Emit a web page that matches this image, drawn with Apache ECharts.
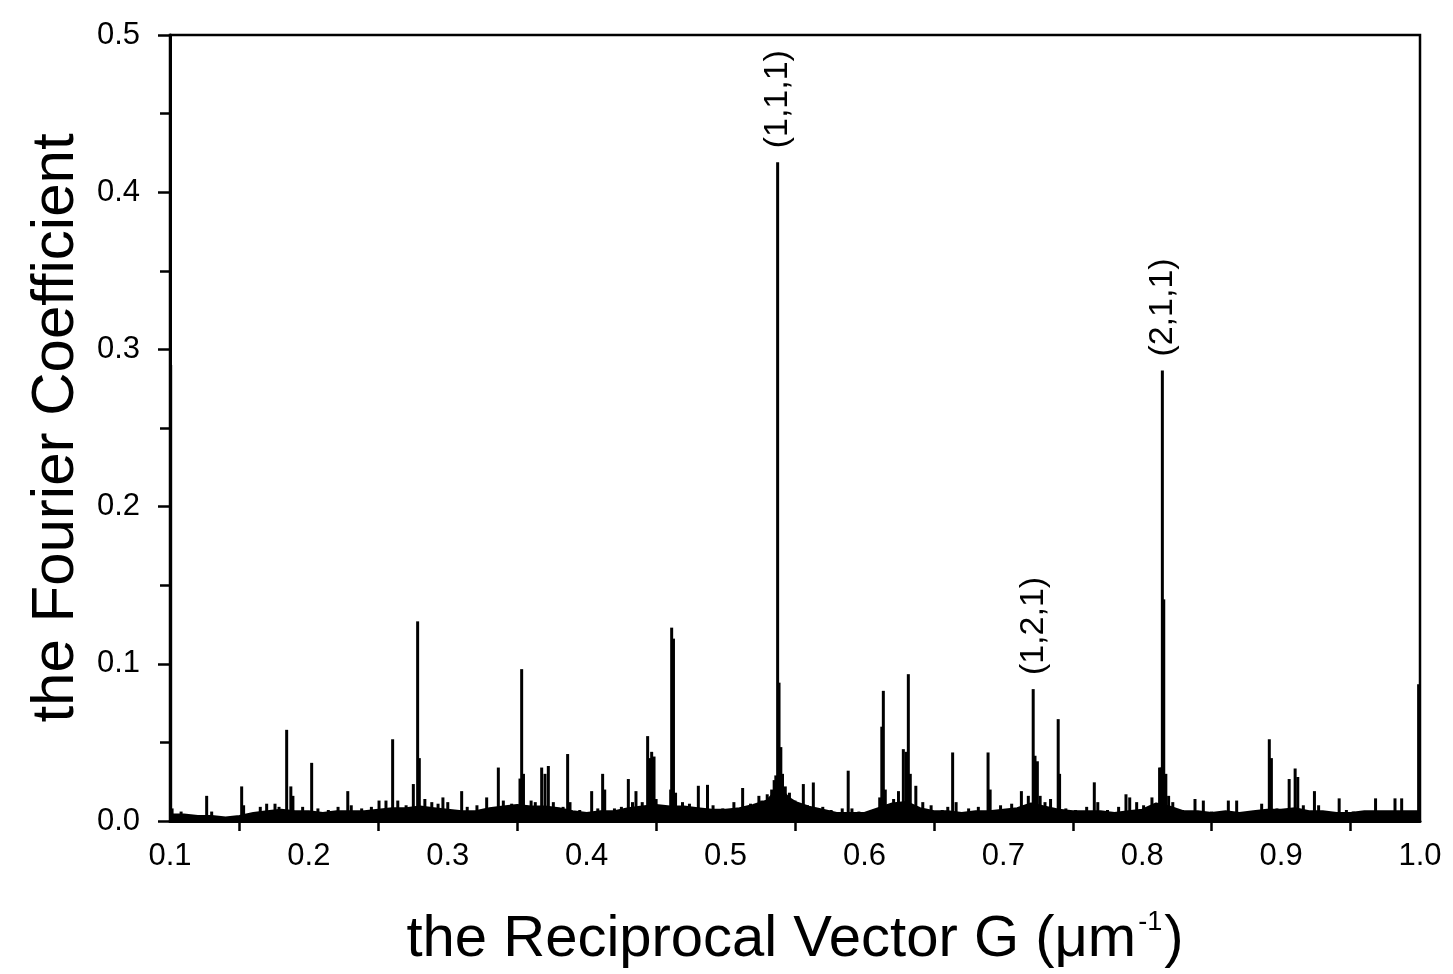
<!DOCTYPE html>
<html>
<head>
<meta charset="utf-8">
<script src="https://cdn.jsdelivr.net/npm/echarts@6/dist/echarts.min.js"></script>
<style>html,body{margin:0;padding:0;background:#fff;}#c{width:1453px;height:974px;}</style>
</head>
<body>
<div id="c"></div>
<script>
// Noise floor of the spectrum (G in 1/um, Fourier coefficient)
const baseG = [0.100,0.110,0.120,0.130,0.140,0.150,0.160,0.170,0.180,0.190,0.200,0.210,0.220,0.230,0.240,0.250,0.260,0.270,0.280,0.290,0.300,0.310,0.320,0.330,0.340,0.350,0.360,0.370,0.380,0.390,0.400,0.410,0.420,0.430,0.440,0.450,0.460,0.470,0.480,0.490,0.500,0.510,0.520,0.530,0.535,0.540,0.545,0.550,0.560,0.570,0.580,0.590,0.600,0.610,0.620,0.630,0.640,0.650,0.660,0.670,0.680,0.690,0.700,0.710,0.720,0.730,0.740,0.750,0.760,0.770,0.780,0.790,0.800,0.810,0.820,0.830,0.840,0.850,0.860,0.870,0.880,0.890,0.900,0.910,0.920,0.930,0.940,0.950,0.960,0.970,0.980,0.990,1.000];
const baseF = [0.004,0.004,0.003,0.003,0.002,0.003,0.005,0.006,0.007,0.006,0.006,0.005,0.006,0.006,0.006,0.007,0.008,0.008,0.009,0.008,0.007,0.006,0.006,0.008,0.009,0.010,0.009,0.009,0.008,0.006,0.005,0.006,0.006,0.008,0.009,0.010,0.009,0.009,0.008,0.007,0.007,0.008,0.010,0.013,0.018,0.020,0.015,0.012,0.009,0.007,0.005,0.005,0.005,0.008,0.011,0.012,0.008,0.006,0.006,0.005,0.006,0.006,0.007,0.008,0.011,0.009,0.007,0.006,0.006,0.006,0.005,0.006,0.007,0.011,0.009,0.006,0.006,0.005,0.006,0.005,0.006,0.007,0.007,0.008,0.006,0.006,0.005,0.005,0.006,0.006,0.006,0.006,0.006];

// Spikes
const peakG = [0.1005,0.1015,0.108,0.1264,0.130,0.1516,0.153,0.165,0.1696,0.1756,0.1785,0.184,0.187,0.1885,0.1955,0.202,0.2065,0.214,0.221,0.228,0.2305,0.238,0.245,0.2505,0.2555,0.2603,0.264,0.270,0.2752,0.2783,0.2795,0.2835,0.2885,0.293,0.2965,0.300,0.310,0.314,0.321,0.328,0.3364,0.340,0.346,0.352,0.3532,0.3545,0.360,0.363,0.3676,0.3700,0.3724,0.376,0.383,0.3863,0.388,0.395,0.4036,0.408,0.4115,0.413,0.420,0.425,0.430,0.433,0.4355,0.440,0.4439,0.4455,0.4468,0.4485,0.450,0.454,0.458,0.4605,0.4612,0.4625,0.464,0.469,0.474,0.4804,0.487,0.491,0.498,0.506,0.5123,0.518,0.524,0.526,0.530,0.5332,0.535,0.5362,0.5375,0.5385,0.5398,0.541,0.543,0.546,0.550,0.556,0.559,0.5632,0.570,0.576,0.584,0.5883,0.591,0.596,0.605,0.611,0.6125,0.6136,0.615,0.621,0.6245,0.628,0.630,0.6316,0.633,0.637,0.642,0.648,0.656,0.660,0.6635,0.666,0.675,0.682,0.689,0.6905,0.698,0.706,0.713,0.718,0.7215,0.7228,0.7245,0.7265,0.730,0.734,0.7395,0.7405,0.745,0.752,0.760,0.7655,0.768,0.775,0.783,0.7883,0.791,0.796,0.801,0.807,0.8125,0.8135,0.8145,0.8155,0.817,0.819,0.822,0.829,0.838,0.844,0.850,0.862,0.868,0.878,0.886,0.8915,0.893,0.897,0.9058,0.9101,0.912,0.916,0.924,0.927,0.932,0.9418,0.947,0.952,0.968,0.973,0.982,0.9868,0.992,0.999];
const peakF = [0.290,0.008,0.006,0.016,0.006,0.022,0.010,0.009,0.011,0.011,0.009,0.058,0.022,0.016,0.009,0.037,0.008,0.007,0.009,0.019,0.010,0.008,0.009,0.013,0.013,0.052,0.013,0.010,0.0235,0.127,0.040,0.014,0.012,0.011,0.015,0.012,0.019,0.009,0.010,0.015,0.034,0.013,0.011,0.027,0.0966,0.030,0.013,0.012,0.034,0.030,0.035,0.012,0.009,0.0426,0.012,0.007,0.019,0.008,0.030,0.020,0.008,0.009,0.0267,0.012,0.019,0.012,0.054,0.040,0.044,0.041,0.014,0.010,0.009,0.020,0.123,0.116,0.018,0.012,0.011,0.0224,0.023,0.010,0.008,0.012,0.021,0.011,0.016,0.013,0.017,0.020,0.026,0.029,0.419,0.088,0.047,0.030,0.022,0.018,0.013,0.0235,0.010,0.0245,0.009,0.007,0.008,0.032,0.008,0.006,0.007,0.015,0.060,0.0828,0.020,0.014,0.019,0.0457,0.044,0.0934,0.030,0.0224,0.012,0.010,0.007,0.009,0.0436,0.012,0.008,0.009,0.0436,0.020,0.010,0.011,0.019,0.016,0.0839,0.0415,0.038,0.016,0.012,0.014,0.0648,0.030,0.008,0.007,0.009,0.0246,0.012,0.007,0.009,0.017,0.015,0.012,0.010,0.015,0.034,0.034,0.2865,0.141,0.030,0.016,0.012,0.007,0.014,0.013,0.006,0.013,0.013,0.006,0.011,0.052,0.040,0.008,0.0267,0.0334,0.028,0.010,0.019,0.010,0.006,0.0144,0.007,0.006,0.0144,0.006,0.0144,0.0144,0.006,0.087];

// Peak annotations
const labelG = [0.5375, 0.7215, 0.8145];
const labelText = ['(1,1,1)', '(1,2,1)', '(2,1,1)'];

const yTicks = [0, 0.1, 0.2, 0.3, 0.4, 0.5];
const xTicks = [0.1, 0.2, 0.3, 0.4, 0.5, 0.6, 0.7, 0.8, 0.9, 1.0];

const FONT = "'Liberation Sans', Arial, Helvetica, sans-serif";

const baseData = baseG.map((g, i) => [g, baseF[i]]);
const barData = peakG.map((g, i) => {
  const li = labelG.indexOf(g);
  const item = { value: [g, peakF[i]] };
  if (li >= 0) {
    item.label = {
      show: true, formatter: labelText[li], position: 'top', rotate: 90,
      align: 'left', verticalAlign: 'middle', distance: 14,
      fontSize: 34, fontFamily: FONT, color: '#000'
    };
  }
  return item;
});

const chart = echarts.init(document.getElementById('c'), null, { renderer: 'canvas' });
chart.setOption({
  animation: false,
  backgroundColor: '#fff',
  grid: { left: 170, right: 33, top: 35, bottom: 152, show: true, borderColor: '#000', borderWidth: 2.5, backgroundColor: 'transparent' },
  xAxis: {
    type: 'value', min: xTicks[0], max: xTicks[xTicks.length - 1], interval: 0.1,
    axisLine: { show: true, onZero: false, lineStyle: { color: '#000', width: 3 } },
    axisTick: { show: false },
    minorTick: { show: true, splitNumber: 2, length: 10, lineStyle: { color: '#000', width: 2.5 } },
    splitLine: { show: false },
    axisLabel: { color: '#000', fontSize: 31, fontFamily: FONT, margin: 20, formatter: v => v.toFixed(1) },
    name: '{a|the Reciprocal Vector G (μm}{s|-1}{a|)}',
    nameLocation: 'middle', nameGap: 88,
    nameTextStyle: {
      color: '#000', fontFamily: FONT,
      rich: {
        a: { fontSize: 58, fontFamily: FONT, color: '#000', lineHeight: 62 },
        s: { fontSize: 27, fontFamily: FONT, color: '#000', verticalAlign: 'top', lineHeight: 62, padding: [0, 2, 30, 2] }
      }
    }
  },
  yAxis: {
    type: 'value', min: yTicks[0], max: yTicks[yTicks.length - 1], interval: 0.1,
    axisLine: { show: true, lineStyle: { color: '#000', width: 3 } },
    axisTick: { show: true, length: 12, lineStyle: { color: '#000', width: 2.5 } },
    minorTick: { show: true, splitNumber: 2, length: 10, lineStyle: { color: '#000', width: 2.5 } },
    splitLine: { show: false },
    axisLabel: { color: '#000', fontSize: 31, fontFamily: FONT, margin: 30, formatter: v => v.toFixed(1) },
    name: 'the Fourier Coefficient', nameLocation: 'middle', nameGap: 84,
    nameTextStyle: { color: '#000', fontSize: 60, fontFamily: FONT }
  },
  series: [
    {
      type: 'line', data: baseData, symbol: 'none', silent: true,
      lineStyle: { color: '#000', width: 2.5 },
      areaStyle: { color: '#000', opacity: 1 },
      z: 2
    },
    {
      type: 'bar', data: barData, barWidth: 3, silent: true,
      itemStyle: { color: '#000' },
      z: 3
    }
  ]
});
</script>
</body>
</html>
